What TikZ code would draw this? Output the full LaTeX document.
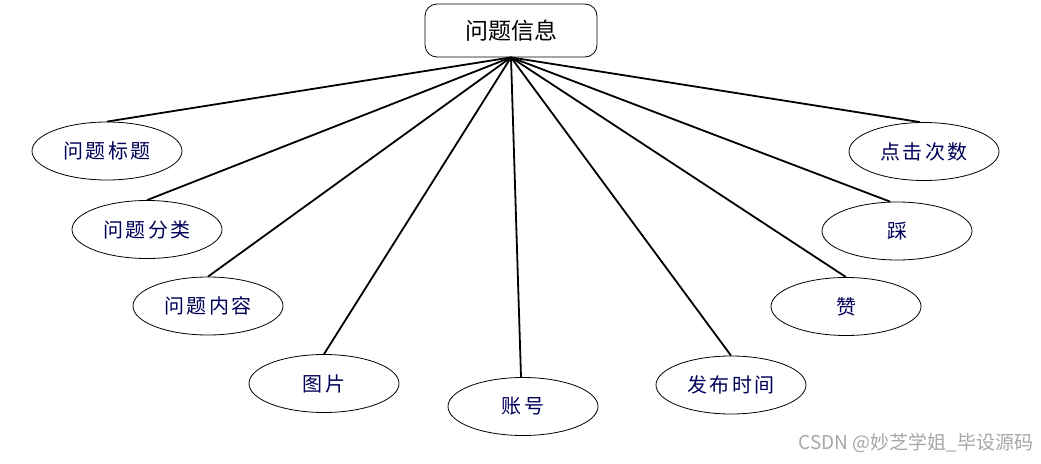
\documentclass[tikz,border=0pt]{standalone}
\usepackage{fontspec}
\newfontfamily\cjk{Noto Sans CJK SC}
\newfontfamily\cjkwide[LetterSpace=12]{Noto Sans CJK SC}
\usetikzlibrary{shapes.geometric}

\begin{document}
\begin{tikzpicture}[x=1pt, y=-1pt,
  entity/.style={draw, rounded corners=12pt, line width=0.8pt, minimum width=172pt, minimum height=53pt, font=\cjk\fontsize{23}{26}\selectfont},
  attr/.style={draw, ellipse, line width=0.8pt, minimum width=150pt, minimum height=58pt, inner sep=0pt, text=blue!35!black, font=\cjkwide\fontsize{20}{22}\selectfont},
  link/.style={line width=1.8pt}]
\useasboundingbox (0,0) rectangle (1041,463);
\node[entity] (info) at (511,30.5) {问题信息};
\node[attr] (title) at (107,151) {问题标题};
\node[attr] (kind) at (147,229.5) {问题分类};
\node[attr] (body) at (208,306) {问题内容};
\node[attr] (pic) at (324,383.5) {图片};
\node[attr] (acct) at (523,406.5) {账号};
\node[attr] (time) at (731,385) {发布时间};
\node[attr] (up) at (846,306.5) {赞};
\node[attr] (down) at (897,231) {踩};
\node[attr] (hits) at (924,151.5) {点击次数};
\draw[link] (info.south) -- (title.north);
\draw[link] (info.south) -- (kind.north);
\draw[link] (info.south) -- (body.north);
\draw[link] (info.south) -- (pic.north);
\draw[link] (info.south) -- ([xshift=-2pt]acct.north);
\draw[link] (info.south) -- (time.north);
\draw[link] (info.south) -- (up.north);
\draw[link] (info.south) -- ([xshift=-7pt]down.north);
\draw[link] (info.south) -- ([xshift=-4pt]hits.north);
\node[anchor=east, text=black!35, font=\cjk\fontsize{19}{22}\selectfont] (mark) at (1037,443) {CSDN @妙芝学姐\_毕设源码};
\end{tikzpicture}
\end{document}
